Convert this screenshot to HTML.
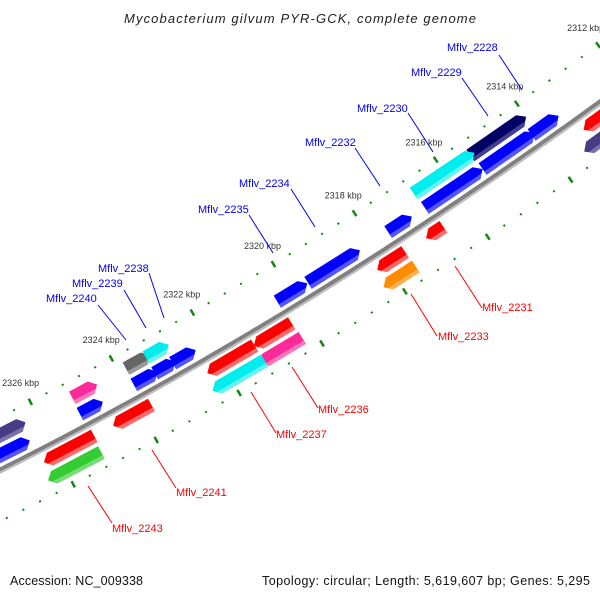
<!DOCTYPE html>
<html><head><meta charset="utf-8"><style>
html,body{margin:0;padding:0;background:#fff;}
svg{display:block;font-family:"Liberation Sans",sans-serif;}
</style></head><body>
<svg id="chart" width="600" height="600" viewBox="0 0 600 600" xmlns="http://www.w3.org/2000/svg">
<text x="300" y="23" text-anchor="middle" font-size="13" font-style="italic" fill="#222" textLength="352">Mycobacterium gilvum PYR-GCK, complete genome</text>
<g id="ticks"></g>
<g id="backbone"></g>
<g id="genes"></g>
<g id="labels">
<g stroke-width="1">
<line x1="499" y1="55" x2="522" y2="90" stroke="#0000ff"/><line x1="462" y1="78" x2="488" y2="116" stroke="#0000ff"/>
<line x1="408" y1="113" x2="433" y2="152" stroke="#0000ff"/><line x1="355" y1="148" x2="380" y2="186" stroke="#0000ff"/>
<line x1="291" y1="189" x2="315" y2="227" stroke="#0000ff"/><line x1="249" y1="215" x2="273" y2="253" stroke="#0000ff"/>
<line x1="149" y1="273" x2="164" y2="318" stroke="#0000ff"/><line x1="124" y1="290" x2="146" y2="328" stroke="#0000ff"/>
<line x1="98" y1="305" x2="126" y2="340" stroke="#0000ff"/>
<line x1="455" y1="266" x2="482" y2="308" stroke="#ff0000"/><line x1="411" y1="294" x2="437" y2="336" stroke="#ff0000"/>
<line x1="292" y1="367" x2="318" y2="408" stroke="#ff0000"/><line x1="251" y1="392" x2="276" y2="433" stroke="#ff0000"/>
<line x1="152" y1="450" x2="176" y2="488" stroke="#ff0000"/><line x1="88" y1="486" x2="112" y2="523" stroke="#ff0000"/>
</g>
<g font-size="11" fill="#0000ff">
<text x="447" y="51">Mflv_2228</text>
<text x="411" y="76">Mflv_2229</text>
<text x="357" y="112">Mflv_2230</text>
<text x="305" y="146">Mflv_2232</text>
<text x="239" y="187">Mflv_2234</text>
<text x="198" y="213">Mflv_2235</text>
<text x="98" y="272">Mflv_2238</text>
<text x="72" y="287">Mflv_2239</text>
<text x="46" y="302">Mflv_2240</text>
</g>
<g font-size="11" fill="#ff0000">
<text x="482" y="311">Mflv_2231</text>
<text x="438" y="340">Mflv_2233</text>
<text x="318" y="413">Mflv_2236</text>
<text x="276" y="438">Mflv_2237</text>
<text x="176" y="496">Mflv_2241</text>
<text x="112" y="532">Mflv_2243</text>
</g>
</g>
<text x="10" y="585" font-size="12.5" fill="#111" textLength="133">Accession: NC_009338</text>
<text x="590" y="585" font-size="12.5" fill="#111" text-anchor="end" textLength="328">Topology: circular; Length: 5,619,607 bp; Genes: 5,295</text>
</svg>
<script>
const tickKb = [2312, 2314, 2316, 2318, 2320, 2322, 2324, 2326, 2328];
const tickLabels = ['2312 kbp','2314 kbp','2316 kbp','2318 kbp','2320 kbp','2322 kbp','2324 kbp','2326 kbp','2328 kbp'];
const geneStart = [2313.46,2314.05,2315.32,2317.05,2318.32,2319.61,2322.34,2322.83,2323.27,2324.61,2326.4,
  2314.0,2315.27,2323.24,2322.78,2324.54,2326.3,
  2312.3,2316.63,2317.56,2320.32,2321.22,2323.73,2325.12,
  2312.3,2317.54,2320.29,2321.2,2325.15];
const geneEnd = [2314.12,2315.32,2316.73,2317.63,2319.59,2320.34,2322.9,2323.34,2323.85,2325.17,2327.6,
  2315.37,2316.76,2323.83,2323.34,2325.15,2327.6,
  2313.22,2317.05,2318.24,2321.24,2322.37,2324.66,2326.34,
  2313.46,2318.32,2321.32,2322.46,2326.44];
const geneStrand = [1,1,1,1,1,1,1,1,1,1,1, 1,1,1,1,1,1, -1,-1,-1,-1,-1,-1,-1, -1,-1,-1,-1,-1];
const geneLane = [1,1,1,1,1,1,1,1,1,1,1, 2,2,2,2,2,2, 1,1,1,1,1,1,1, 2,2,2,2,2];
const geneClass = ['blue','blue','blue','blue','blue','blue','blue','blue','blue','blue','blue',
  'navy','cyan','gray','cyan','pink','purple',
  'red','red','red','red','red','red','red',
  'purple','orange','pink','cyan','green'];

const palette = {blue:['#0000ff','#5555ff'],navy:['#000066','#40408f'],cyan:['#00eeee','#66f2f2'],gray:['#666666','#9a9a9a'],
  pink:['#ff2a9a','#ff77bb'],purple:['#463c86','#7a72aa'],red:['#ff0000','#ff6a6a'],orange:['#ff8c00','#ffb04d'],green:['#33cc33','#77dd77']};
const NS='http://www.w3.org/2000/svg';
function xOf(kb){return 544 - 41*(kb-2314);}
function yb(x){return 470 - 0.5*x - 0.000189*x*x;}
function P(x,v){const s=-0.5-0.000378*x;const L=Math.hypot(1,s);return [x+v*(-s/L), yb(x)+v*(1/L)];}
function pts(a){return a.map(p=>p[0].toFixed(1)+','+p[1].toFixed(1)).join(' ');}

// backbone
const bb=document.getElementById('backbone');
function curvePath(v){let d='';for(let x=-20;x<=620;x+=10){const p=P(x,v);d+=(d?'L':'M')+p[0].toFixed(1)+' '+p[1].toFixed(1);}return d;}
const b1=document.createElementNS(NS,'path');


b1.setAttribute('d',curvePath(-0.5));b1.setAttribute('stroke','#808080');b1.setAttribute('stroke-width','4');b1.setAttribute('fill','none');bb.appendChild(b1);
const b2=document.createElementNS(NS,'path');


b2.setAttribute('d',curvePath(2.5));b2.setAttribute('stroke','#bdbdbd');b2.setAttribute('stroke-width','2');b2.setAttribute('fill','none');bb.appendChild(b2);

// ticks
const tg=document.getElementById('ticks');
const rows=[-47,46];
for(let k=2311.2;k<=2328.01;k+=0.4){
  const kk=Math.round(k*10)/10;const major=Math.abs(kk-Math.round(kk))<0.01 && Math.round(kk)%2===0;
  const x=xOf(kk);
  rows.forEach(v=>{
    const el=document.createElementNS(NS,'line');
    
    
    const a=P(x,major?v-3.5:v-1),b=P(x,major?v+3.5:v+1);
    el.setAttribute('x1',a[0]);el.setAttribute('y1',a[1]);el.setAttribute('x2',b[0]);el.setAttribute('y2',b[1]);
    el.setAttribute('stroke','#118811');el.setAttribute('stroke-width',major?'2.5':'2');
    tg.appendChild(el);
  });
}
tickKb.forEach((k,i)=>{
  const p=P(xOf(k),-68);
  const t=document.createElementNS(NS,'text');
  
  
  t.setAttribute('x',p[0]);t.setAttribute('y',p[1]+3);t.setAttribute('text-anchor','middle');
  t.setAttribute('font-size','9');t.setAttribute('fill','#333');t.textContent=tickLabels[i];
  tg.appendChild(t);
});

// genes
const gg=document.getElementById('genes');
geneStart.forEach((s,i)=>{
  const e=geneEnd[i];const xL=xOf(e),xR=xOf(s);
  const off=geneLane[i]===1?13:31;const vc=geneStrand[i]>0?-off:off;
  const vt=vc-7,vb=vc+7;const ha=Math.min(6,(xR-xL)/2);
  let body,strip;
  if(geneStrand[i]>0){
    body=[P(xL,vt),P(xR-ha,vt),P(xR,vc),P(xR-ha,vb),P(xL,vb)];
    strip=[P(xL,vb-4),P(xR-ha*3/7,vb-4),P(xR-ha,vb),P(xL,vb)];
  }else{
    body=[P(xL,vc),P(xL+ha,vt),P(xR,vt),P(xR,vb),P(xL+ha,vb)];
    strip=[P(xL+ha*3/7,vb-4),P(xR,vb-4),P(xR,vb),P(xL+ha,vb)];
  }
  const c=palette[geneClass[i]];
  const g=document.createElementNS(NS,'g');
  
  
  const p1=document.createElementNS(NS,'polygon');
  
  
  p1.setAttribute('points',pts(body));p1.setAttribute('fill',c[0]);g.appendChild(p1);
  const p2=document.createElementNS(NS,'polygon');
  
  
  p2.setAttribute('points',pts(strip));p2.setAttribute('fill',c[1]);g.appendChild(p2);
  gg.appendChild(g);
});
</script>
</body></html>
